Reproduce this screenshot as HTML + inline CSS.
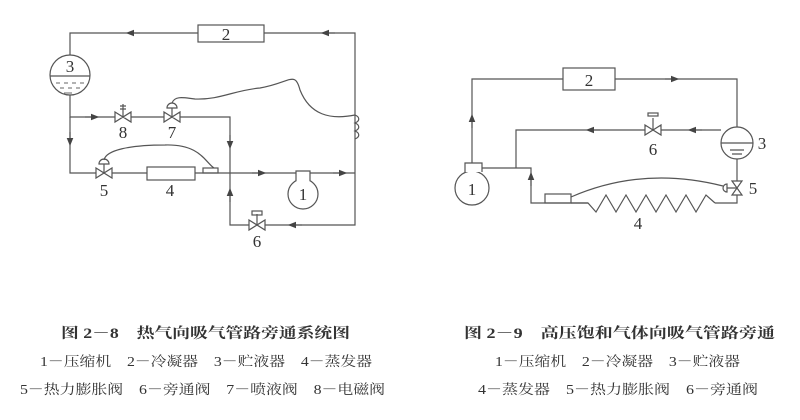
<!DOCTYPE html>
<html><head><meta charset="utf-8"><style>
html,body{margin:0;padding:0;background:#fff}
svg{display:block}
text{font-family:"Liberation Serif","Noto Serif CJK SC",serif;fill:#333}
</style></head><body>
<svg width="800" height="420" viewBox="0 0 800 420" xmlns="http://www.w3.org/2000/svg">
<defs>
<marker id="a" viewBox="0 0 10 10" refX="5" refY="5" markerWidth="7" markerHeight="7" orient="auto"><path d="M0,1 L10,5 L0,9 z" fill="#444"/></marker>
</defs>
<g stroke="#555" stroke-width="1.2" fill="none">
<!-- LEFT DIAGRAM -->
<path d="M70,55 V33 H198 M264,33 H355 V225 H265 M249,225 H230 V117 H180 M164,117 H131 M115,117 H70 V95"/>
<path d="M70,117 V173 H96 M112,173 H147 M195,173 H355"/>
<rect x="198" y="25" width="66" height="17"/>
<rect x="147" y="167" width="48" height="13"/>
<rect x="203" y="168" width="15" height="5"/>
<circle cx="70" cy="75" r="20"/>
<line x1="50" y1="76" x2="90" y2="76"/>
<!-- compressor left -->
<circle cx="303" cy="194" r="15" fill="#fff"/>
<path d="M296,181 V171 H310 V181" fill="#fff"/>
<!-- valves -->
<path d="M115,112 L131,122 L131,112 L115,122 Z M164,112 L180,122 L180,112 L164,122 Z M96,168 L112,178 L112,168 L96,178 Z M249,220 L265,230 L265,220 L249,230 Z" fill="#fff"/>
<path d="M123,117 V104 M120,106 H126 M120,109 H126 M172,117 V108 M104,173 V164 M257,225 V214"/>
<path d="M167,108 A5,5 0 0 1 177,108 Z M99,164 A5,5 0 0 1 109,164 Z"/>
<rect x="252" y="211" width="10" height="4"/>
<path d="M172,103 C175,95 185,98 195,99 C220,100 235,90 260,88 C290,83 295,70 300,90 C310,115 330,120 355,115"/>
<path d="M104,160 C106,150 130,145 165,145 C200,144 205,162 214,168"/>
<path d="M355,115 c5,2 5,6 0,8 c5,2 5,6 0,8 c5,2 5,6 0,8"/>
<!-- arrows -->
<path d="M140,33 H130" marker-end="url(#a)"/>
<path d="M335,33 H325" marker-end="url(#a)"/>
<path d="M85,117 H95" marker-end="url(#a)"/>
<path d="M70,132 V142" marker-end="url(#a)"/>
<path d="M230,135 V145" marker-end="url(#a)"/>
<path d="M230,202 V192" marker-end="url(#a)"/>
<path d="M252,173 H262" marker-end="url(#a)"/>
<path d="M333,173 H343" marker-end="url(#a)"/>
<path d="M302,225 H292" marker-end="url(#a)"/>

<!-- RIGHT DIAGRAM -->
<path d="M472,163 V79 H563 M615,79 H737 V127 M737,159 V181 M737,195 V203 H715 M588,203 H531 V168 H482 M516,168 V130 H645 M661,130 H721"/>
<rect x="563" y="68" width="52" height="22"/>
<circle cx="737" cy="143" r="16"/>
<line x1="721" y1="143" x2="753" y2="143"/>
<path d="M730,150 H744 M732,154 H742"/>
<circle cx="472" cy="188" r="17" fill="#fff"/>
<path d="M465,172 V163 H482 V172" fill="#fff"/>
<rect x="545" y="194" width="26" height="9"/>
<path d="M571,203 H588 L596,212 L606,195 L616,212 L626,195 L636,212 L646,195 L656,212 L666,195 L676,212 L686,195 L696,212 L706,195 L715,203"/>
<path d="M645,125 L661,135 L661,125 L645,135 Z M732,181 L742,195 L732,195 L742,181 Z" fill="#fff"/>
<path d="M653,130 V118"/>
<rect x="648" y="113" width="10" height="3"/>
<path d="M737,188 H727 M727,184 A4,4 0 0 0 727,192 Z"/>
<path d="M571,197 C610,180 660,170 723,186"/>
<path d="M472,128 V118" marker-end="url(#a)"/>
<path d="M531,186 V176" marker-end="url(#a)"/>
<path d="M665,79 H675" marker-end="url(#a)"/>
<path d="M600,130 H590" marker-end="url(#a)"/>
<path d="M702,130 H692" marker-end="url(#a)"/>
</g>
<g font-size="17">
<text x="226" y="40" text-anchor="middle">2</text>
<text x="70" y="72" text-anchor="middle">3</text>
<text x="123" y="138" text-anchor="middle">8</text>
<text x="172" y="138" text-anchor="middle">7</text>
<text x="104" y="196" text-anchor="middle">5</text>
<text x="170" y="196" text-anchor="middle">4</text>
<text x="303" y="200" text-anchor="middle">1</text>
<text x="257" y="247" text-anchor="middle">6</text>
<text x="589" y="86" text-anchor="middle">2</text>
<text x="653" y="155" text-anchor="middle">6</text>
<text x="762" y="149" text-anchor="middle">3</text>
<text x="753" y="194" text-anchor="middle">5</text>
<text x="472" y="195" text-anchor="middle">1</text>
<text x="638" y="229" text-anchor="middle">4</text>
</g>
<g fill="#666" stroke="#666" stroke-width="1">
<path d="M56,83 h4 M64,83 h4 M72,83 h4 M80,83 h4 M60,88 h4 M68,88 h4 M76,88 h4 M64,93 h8"/>
</g>
<text x="61" y="338" font-size="14.5" font-weight="bold" textLength="289" lengthAdjust="spacingAndGlyphs">图 2－8　热气向吸气管路旁通系统图</text>
<text x="40" y="366" font-size="13.5" textLength="332" lengthAdjust="spacingAndGlyphs">1－压缩机　2－冷凝器　3－贮液器　4－蒸发器</text>
<text x="20" y="394" font-size="13.5" textLength="365" lengthAdjust="spacingAndGlyphs">5－热力膨胀阀　6－旁通阀　7－喷液阀　8－电磁阀</text>
<text x="464" y="338" font-size="14.5" font-weight="bold" textLength="311" lengthAdjust="spacingAndGlyphs">图 2－9　高压饱和气体向吸气管路旁通</text>
<text x="495" y="366" font-size="13.5" textLength="245" lengthAdjust="spacingAndGlyphs">1－压缩机　2－冷凝器　3－贮液器</text>
<text x="478" y="394" font-size="13.5" textLength="280" lengthAdjust="spacingAndGlyphs">4－蒸发器　5－热力膨胀阀　6－旁通阀</text>
</svg>
</body></html>
